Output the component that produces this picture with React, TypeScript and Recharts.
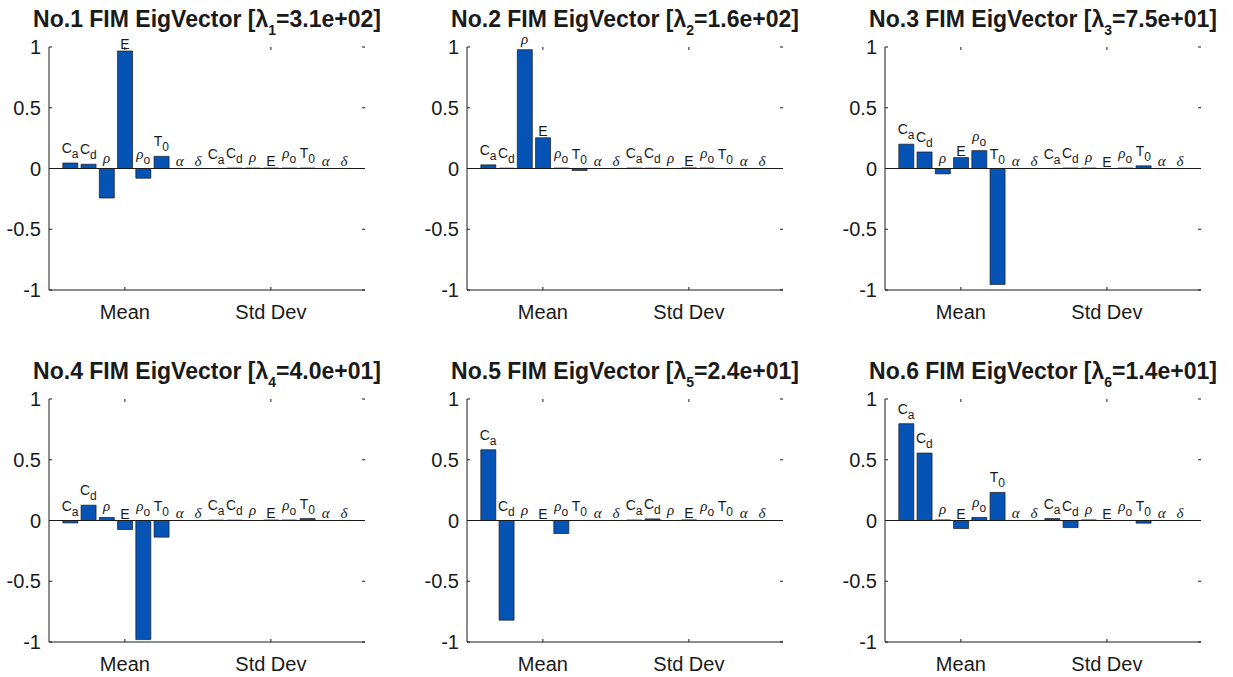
import React from 'react';
import { ComposedChart, Bar, Line, XAxis, YAxis, ReferenceLine } from 'recharts';

// parameter order along the x axis (8 means, then 8 std devs)
const paramNames = ['Ca', 'Cd', 'rho', 'E', 'rhoO', 'T0', 'alpha', 'delta'];
const groupNames = ['Mean', 'Std Dev'];
const eigenValues = ['3.1e+02', '1.6e+02', '7.5e+01', '4.0e+01', '2.4e+01', '1.4e+01'];
const yTicks = [-1, -0.5, 0, 0.5, 1];

// eigenvector components
const vector1 = [0.045, 0.035, -0.243, 0.967, -0.08, 0.1, 0, 0, 0, 0.004, 0.004, 0.004, 0.004, 0.004, 0, 0];
const vector2 = [0.03, 0.003, 0.978, 0.253, 0.004, -0.016, 0, 0, 0.004, 0.003, 0, 0.005, 0.004, 0, 0, 0];
const vector3 = [0.2, 0.136, -0.044, 0.09, 0.147, -0.954, 0, 0, 0, 0.004, 0.004, 0, 0.004, 0.022, 0, 0];
const vector4 = [-0.02, 0.126, 0.025, -0.074, -0.98, -0.137, 0, 0, 0.003, 0.003, 0, 0.004, 0.004, 0.016, 0, 0];
const vector5 = [0.582, -0.82, 0, 0, -0.107, 0, 0, 0, 0.004, 0.013, 0, 0.005, 0, 0, 0, 0];
const vector6 = [0.797, 0.555, 0.005, -0.066, 0.025, 0.231, 0, 0, 0.016, -0.058, 0.005, 0, 0, -0.022, 0, 0];

const vectors = [vector1, vector2, vector3, vector4, vector5, vector6];

const SANS = '"Liberation Sans", Arial, sans-serif';
const SERIF = '"Liberation Serif", "Times New Roman", serif';
const INK = '#1a1a1a';
const BAR_BLUE = '#0653b6';

const PLOT_W = 316;
const PLOT_H = 243;
const Y_AXIS_W = 60;
const Y_GAP = 8;
const TOP_PAD = 30;
const COL_STEP = 418;
const ROW_STEP = 352;
const FIRST_LEFT = 49;
const FIRST_TOP = 47;

// how each parameter name is typeset above its bar
const labelStyle: Record<string, { main: string; sub?: string; greek?: boolean; lift: number }> = {
  Ca: { main: 'C', sub: 'a', lift: 10 },
  Cd: { main: 'C', sub: 'd', lift: 10 },
  rho: { main: 'ρ', greek: true, lift: 6 },
  E: { main: 'E', lift: 2 },
  rhoO: { main: 'ρ', sub: 'o', greek: true, lift: 10 },
  T0: { main: 'T', sub: '0', lift: 10 },
  alpha: { main: 'α', greek: true, lift: 3 },
  delta: { main: 'δ', greek: true, lift: 3 },
};

// label drawn at the top of each bar (or at the baseline for negative bars)
const ParamLabel = (p: any) => {
  const { cx, cy, index } = p;
  if (!isFinite(cx) || !isFinite(cy)) return <g />;
  const s = labelStyle[paramNames[index % paramNames.length]];
  return (
    <text x={cx} y={cy - s.lift} textAnchor="middle" fill={INK}>
      <tspan
        fontFamily={s.greek ? SERIF : SANS}
        fontStyle={s.greek ? 'italic' : 'normal'}
        fontSize={s.greek ? 15 : 14}
      >
        {s.main}
      </tspan>
      {s.sub && (
        <tspan dy={5} fontFamily={SANS} fontSize={12}>
          {s.sub}
        </tspan>
      )}
    </text>
  );
};

const GroupTick = (p: any) => {
  const { x, y, index } = p;
  if (index % paramNames.length !== 3) return <g />;
  const label = groupNames[Math.floor(index / paramNames.length)];
  return (
    <g>
      <line x1={x} x2={x} y1={y} y2={y - 3} stroke={INK} />
      <line x1={x} x2={x} y1={y - PLOT_H} y2={y - PLOT_H + 3} stroke={INK} />
      <text x={x} y={y + 29} textAnchor="middle" fontFamily={SANS} fontSize={20} fill={INK}>
        {label}
      </text>
    </g>
  );
};

const ValueTick = (p: any) => {
  const { x, y, payload } = p;
  const ax = x + Y_GAP;
  return (
    <g>
      <line x1={ax} x2={ax + 3} y1={y} y2={y} stroke={INK} />
      <line x1={ax + PLOT_W} x2={ax + PLOT_W - 3} y1={y} y2={y} stroke={INK} />
      <text x={x} y={y} dy={7} textAnchor="end" fontFamily={SANS} fontSize={20} fill={INK}>
        {String(payload.value)}
      </text>
    </g>
  );
};

function Panel({ idx }: { idx: number }) {
  const col = idx % 3;
  const row = Math.floor(idx / 3);
  const boxLeft = FIRST_LEFT + col * COL_STEP;
  const boxTop = FIRST_TOP + row * ROW_STEP;
  const values = vectors[idx];
  const data = values.map((v, i) => ({
    cat: `${groupNames[Math.floor(i / paramNames.length)]}-${paramNames[i % paramNames.length]}`,
    value: v,
    labelAt: Math.max(v, 0),
  }));
  const chartW = Y_AXIS_W + PLOT_W + 42;

  return (
    <>
      <div
        style={{
          position: 'absolute',
          left: boxLeft - 60,
          top: boxTop - 40,
          width: PLOT_W + 120,
          textAlign: 'center',
          fontFamily: SANS,
          fontWeight: 'bold',
          fontSize: 23,
          lineHeight: '24px',
          color: INK,
          whiteSpace: 'nowrap',
        }}
      >
        No.{idx + 1} FIM EigVector [λ
        <span style={{ fontSize: 14, position: 'relative', top: 8 }}>{idx + 1}</span>={eigenValues[idx]}]
      </div>
      <div style={{ position: 'absolute', left: boxLeft - Y_AXIS_W, top: boxTop - TOP_PAD }}>
        <ComposedChart
          width={chartW}
          height={TOP_PAD + PLOT_H + 40}
          data={data}
          margin={{ top: TOP_PAD, right: 42, left: 0, bottom: 0 }}
          barCategoryGap="10%"
        >
          <XAxis
            dataKey="cat"
            interval={0}
            height={40}
            tickLine={false}
            tickSize={0}
            tickMargin={0}
            axisLine={{ stroke: INK }}
            padding={{ left: 12, right: 12 }}
            tick={<GroupTick />}
          />
          <XAxis
            xAxisId="top"
            dataKey="cat"
            orientation="top"
            height={0}
            tick={false}
            tickLine={false}
            axisLine={{ stroke: INK }}
          />
          <YAxis
            domain={[-1, 1]}
            ticks={yTicks}
            width={Y_AXIS_W}
            tickLine={false}
            tickSize={0}
            tickMargin={Y_GAP}
            axisLine={{ stroke: INK }}
            tick={<ValueTick />}
          />
          <YAxis
            yAxisId="right"
            orientation="right"
            domain={[-1, 1]}
            width={0}
            tick={false}
            tickLine={false}
            axisLine={{ stroke: INK }}
          />
          <ReferenceLine y={0} stroke={INK} strokeWidth={1} />
          <Bar dataKey="value" fill={BAR_BLUE} stroke={INK} strokeWidth={0.7} isAnimationActive={false} />
          <Line
            dataKey="labelAt"
            stroke="none"
            isAnimationActive={false}
            activeDot={false}
            dot={(p: any) => <ParamLabel key={`lbl-${p.index}`} {...p} />}
          />
        </ComposedChart>
      </div>
    </>
  );
}

export default function App() {
  return (
    <div
      style={{
        position: 'absolute',
        left: 0,
        top: 0,
        width: 1233,
        height: 677,
        background: '#fff',
        overflow: 'hidden',
      }}
    >
      {vectors.map((_, i) => (
        <Panel key={i} idx={i} />
      ))}
    </div>
  );
}
